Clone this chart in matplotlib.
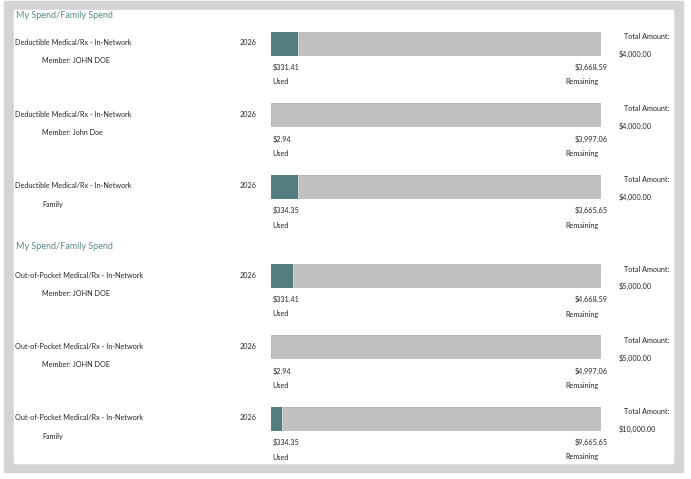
import matplotlib
matplotlib.use('Agg')
import matplotlib.pyplot as plt
from matplotlib.patches import Rectangle

# data
section_titles = ['My Spend/Family Spend', 'My Spend/Family Spend']
labels = ['Deductible Medical/Rx - In-Network'] * 3 + ['Out-of-Pocket Medical/Rx - In-Network'] * 3
members = ['Member: JOHN DOE', 'Member: John Doe', 'Family',
           'Member: JOHN DOE', 'Member: JOHN DOE', 'Family']
years = [2026, 2026, 2026, 2026, 2026, 2026]
used = [331.41, 2.94, 334.35, 331.41, 2.94, 334.35]
remaining = [3668.59, 3997.06, 3665.65, 4668.59, 4997.06, 9665.65]
totals = [4000.00, 4000.00, 4000.00, 5000.00, 5000.00, 10000.00]

W, H = 691, 479
TEAL = '#527e80'
GREY = '#c0c0c0'
TXT = '#262626'
FONT = ['Lato', 'DejaVu Sans']
FS = 5.2

plt.rcParams['font.family'] = FONT

fig = plt.figure(figsize=(W / 100, H / 100), dpi=100)
ax = fig.add_axes([0, 0, 1, 1])
ax.set_xlim(0, W)
ax.set_ylim(H, 0)
ax.axis('off')

# page frame
ax.add_patch(Rectangle((4, 1), 679, 471, color='#d4d4d4', zorder=0))
ax.add_patch(Rectangle((14, 10), 659, 453, color='white', zorder=1))

title_y = [15, 246.5]
for t, y in zip(section_titles, title_y):
    ax.text(16, y, t, fontsize=6.5, color='#5b8a8c', va='center', ha='left', zorder=3)

row_top = [31.7, 103.3, 175.0, 264.0, 335.3, 407.0]
bar_x0, bar_w, bar_h = 270.7, 330.0, 24.0

for i, T in enumerate(row_top):
    ax.text(15, T + 11, labels[i], fontsize=FS, color=TXT, va='center', zorder=3)
    ax.text(240, T + 11, str(years[i]), fontsize=FS, color=TXT, va='center', zorder=3)
    ax.text(42, T + 29, members[i], fontsize=FS, color=TXT, va='center', zorder=3)
    ax.text(272.5, T + 35.6, f'${used[i]:,.2f}', fontsize=FS, color=TXT, va='center', zorder=3)
    ax.text(272.5, T + 50, 'Used', fontsize=FS, color=TXT, va='center', zorder=3)
    ax.text(607.5, T + 35.6, f'${remaining[i]:,.2f}', fontsize=FS, color=TXT,
            va='center', ha='right', zorder=3)
    ax.text(599, T + 50, 'Remaining', fontsize=FS, color=TXT, va='center', ha='right', zorder=3)
    ax.text(669.5, T + 5, 'Total Amount:', fontsize=FS, color=TXT, va='center', ha='right', zorder=3)
    ax.text(619, T + 22.6, f'${totals[i]:,.2f}', fontsize=FS, color=TXT, va='center', zorder=3)

    # progress bar on its own small axes, scaled to the total
    bax = fig.add_axes([bar_x0 / W, 1 - (T + bar_h) / H, bar_w / W, bar_h / H])
    bax.barh(0, used[i], height=1, color=TEAL, edgecolor='none', zorder=2)
    bax.barh(0, remaining[i], left=used[i], height=1, color=GREY,
             edgecolor='#b3b3b3', linewidth=0.6, zorder=1)
    if used[i] / totals[i] > 0.01:
        bax.axvline(used[i], color='#d8dede', lw=0.5, zorder=3)
    bax.set_xlim(0, totals[i])
    bax.set_ylim(-0.5, 0.5)
    bax.axis('off')

fig.savefig('out.png', dpi=100)
